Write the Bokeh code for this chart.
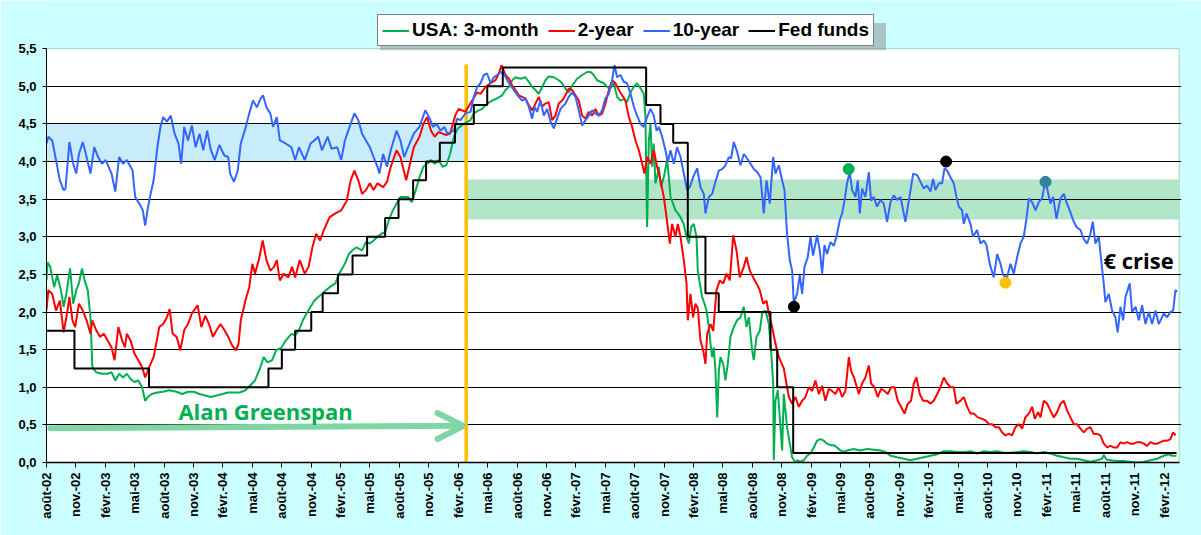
import math
from bokeh.plotting import figure
from bokeh.models import (Range1d, FixedTicker, Legend, LegendItem, Label, Arrow,
                          OpenHead, BoxAnnotation)
from bokeh.embed import file_html
from bokeh.resources import INLINE

# ---------------- data (x = decimal year, y = yield in %) ----------------
x_tick_labels = ["août-02", "nov.-02", "févr.-03", "mai-03", "août-03", "nov.-03",
                 "févr.-04", "mai-04", "août-04", "nov.-04", "févr.-05", "mai-05",
                 "août-05", "nov.-05", "févr.-06", "mai-06", "août-06", "nov.-06",
                 "févr.-07", "mai-07", "août-07", "nov.-07", "févr.-08", "mai-08",
                 "août-08", "nov.-08", "févr.-09", "mai-09", "août-09", "nov.-09",
                 "févr.-10", "mai-10", "août-10", "nov.-10", "févr.-11", "mai-11",
                 "août-11", "nov.-11", "févr.-12"]
y_tick_values = [0.0, 0.5, 1.0, 1.5, 2.0, 2.5, 3.0, 3.5, 4.0, 4.5, 5.0, 5.5]
y_tick_labels = ["0,0", "0,5", "1,0", "1,5", "2,0", "2,5", "3,0", "3,5", "4,0", "4,5", "5,0", "5,5"]

series_names = ["USA: 3-month", "2-year", "10-year", "Fed funds"]

usa_3m = [
    (2002.583, 2.42), (2002.592, 2.66), (2002.615, 2.60), (2002.648, 2.33), (2002.674, 2.49),
    (2002.706, 2.29), (2002.729, 2.07), (2002.752, 2.24), (2002.784, 2.58), (2002.810, 2.11),
    (2002.836, 2.29), (2002.859, 2.38), (2002.885, 2.58), (2002.908, 2.42), (2002.934, 2.29),
    (2002.957, 1.93), (2002.973, 1.27), (2003.005, 1.20), (2003.054, 1.18), (2003.103, 1.18),
    (2003.136, 1.20), (2003.168, 1.09), (2003.201, 1.18), (2003.233, 1.13), (2003.266, 1.18),
    (2003.298, 1.11), (2003.331, 1.07), (2003.364, 1.09), (2003.396, 1.00), (2003.422, 0.82),
    (2003.445, 0.87), (2003.477, 0.91), (2003.526, 0.93), (2003.575, 0.94), (2003.624, 0.96),
    (2003.689, 0.94), (2003.737, 0.91), (2003.786, 0.94), (2003.835, 0.94), (2003.884, 0.91),
    (2003.933, 0.89), (2003.981, 0.87), (2004.030, 0.89), (2004.079, 0.91), (2004.128, 0.93),
    (2004.177, 0.93), (2004.225, 0.93), (2004.274, 0.96), (2004.313, 1.02), (2004.356, 1.09),
    (2004.398, 1.25), (2004.430, 1.40), (2004.463, 1.33), (2004.502, 1.36), (2004.535, 1.49),
    (2004.583, 1.53), (2004.616, 1.62), (2004.665, 1.71), (2004.697, 1.69), (2004.730, 1.76),
    (2004.762, 1.89), (2004.795, 1.98), (2004.828, 2.07), (2004.860, 2.15), (2004.893, 2.20),
    (2004.925, 2.24), (2004.958, 2.29), (2004.990, 2.33), (2005.039, 2.38), (2005.071, 2.51),
    (2005.120, 2.64), (2005.153, 2.77), (2005.185, 2.82), (2005.218, 2.86), (2005.266, 2.82),
    (2005.299, 2.93), (2005.332, 2.91), (2005.364, 2.95), (2005.397, 3.00), (2005.429, 3.04),
    (2005.462, 3.06), (2005.494, 3.22), (2005.527, 3.35), (2005.559, 3.44), (2005.592, 3.53),
    (2005.624, 3.53), (2005.657, 3.53), (2005.689, 3.46), (2005.722, 3.62), (2005.754, 3.79),
    (2005.787, 3.93), (2005.819, 3.97), (2005.852, 4.02), (2005.884, 3.97), (2005.917, 4.02),
    (2005.950, 3.93), (2005.982, 3.95), (2006.014, 4.10), (2006.047, 4.33), (2006.080, 4.44),
    (2006.129, 4.50), (2006.188, 4.55), (2006.216, 4.64), (2006.258, 4.68), (2006.287, 4.70),
    (2006.329, 4.77), (2006.372, 4.81), (2006.414, 4.84), (2006.457, 4.88), (2006.485, 4.95),
    (2006.514, 4.99), (2006.542, 5.08), (2006.570, 5.12), (2006.613, 5.10), (2006.655, 5.12),
    (2006.683, 5.06), (2006.712, 4.99), (2006.740, 4.95), (2006.768, 4.90), (2006.797, 4.99),
    (2006.825, 5.08), (2006.853, 5.13), (2006.896, 5.12), (2006.938, 5.08), (2006.967, 5.04),
    (2006.995, 4.97), (2007.023, 4.92), (2007.052, 5.01), (2007.094, 5.10), (2007.137, 5.15),
    (2007.179, 5.19), (2007.208, 5.19), (2007.236, 5.15), (2007.264, 5.08), (2007.293, 5.06),
    (2007.321, 5.04), (2007.350, 4.99), (2007.378, 4.97), (2007.406, 5.04), (2007.434, 4.86),
    (2007.463, 4.81), (2007.491, 4.83), (2007.519, 4.79), (2007.548, 4.92), (2007.576, 4.99),
    (2007.604, 5.04), (2007.633, 4.97), (2007.661, 4.90), (2007.675, 4.59), (2007.689, 3.13),
    (2007.704, 4.28), (2007.718, 4.50), (2007.732, 3.93), (2007.746, 4.24), (2007.760, 3.71),
    (2007.774, 3.79), (2007.789, 3.93), (2007.808, 3.66), (2007.831, 3.79), (2007.859, 4.02),
    (2007.874, 3.79), (2007.888, 3.53), (2007.910, 3.44), (2007.930, 3.35), (2007.950, 3.31),
    (2007.973, 3.26), (2008.001, 3.17), (2008.024, 3.00), (2008.044, 2.91), (2008.064, 3.13),
    (2008.086, 3.17), (2008.109, 3.00), (2008.120, 2.55), (2008.137, 2.38), (2008.157, 2.20),
    (2008.177, 2.11), (2008.194, 2.02), (2008.214, 1.80), (2008.228, 1.58), (2008.242, 1.40),
    (2008.256, 1.53), (2008.270, 1.22), (2008.285, 0.60), (2008.299, 1.22), (2008.313, 1.40),
    (2008.336, 1.31), (2008.355, 1.09), (2008.375, 1.31), (2008.398, 1.67), (2008.426, 1.80),
    (2008.454, 1.89), (2008.483, 1.93), (2008.511, 2.07), (2008.534, 1.80), (2008.554, 1.93),
    (2008.582, 1.49), (2008.596, 1.36), (2008.619, 1.67), (2008.647, 1.75), (2008.667, 1.98),
    (2008.695, 2.02), (2008.724, 1.84), (2008.743, 1.49), (2008.761, 1.05), (2008.766, 0.03),
    (2008.780, 0.82), (2008.800, 0.96), (2008.817, 0.60), (2008.837, 0.16), (2008.851, 0.91),
    (2008.879, 0.47), (2008.902, 0.25), (2008.922, 0.07), (2008.950, 0.00), (2008.964, 0.03),
    (2008.993, 0.01), (2009.021, 0.03), (2009.049, 0.09), (2009.078, 0.12), (2009.106, 0.20),
    (2009.134, 0.29), (2009.163, 0.31), (2009.191, 0.29), (2009.219, 0.25), (2009.248, 0.23),
    (2009.276, 0.23), (2009.304, 0.20), (2009.333, 0.16), (2009.361, 0.14), (2009.389, 0.16),
    (2009.446, 0.18), (2009.503, 0.16), (2009.559, 0.18), (2009.616, 0.17), (2009.673, 0.16),
    (2009.715, 0.14), (2009.758, 0.09), (2009.814, 0.07), (2009.871, 0.05), (2009.928, 0.03),
    (2009.984, 0.05), (2010.041, 0.07), (2010.098, 0.09), (2010.155, 0.11), (2010.211, 0.15),
    (2010.268, 0.15), (2010.325, 0.14), (2010.381, 0.14), (2010.438, 0.15), (2010.494, 0.12),
    (2010.551, 0.15), (2010.608, 0.14), (2010.665, 0.15), (2010.721, 0.13), (2010.778, 0.13),
    (2010.835, 0.14), (2010.891, 0.15), (2010.948, 0.14), (2011.004, 0.12), (2011.061, 0.14),
    (2011.118, 0.12), (2011.175, 0.09), (2011.231, 0.07), (2011.288, 0.05), (2011.345, 0.05),
    (2011.401, 0.03), (2011.458, 0.01), (2011.515, 0.03), (2011.557, 0.05), (2011.571, 0.10),
    (2011.594, 0.04), (2011.628, 0.03), (2011.685, 0.02), (2011.741, 0.02), (2011.798, 0.01),
    (2011.855, 0.00), (2011.911, 0.01), (2011.968, 0.03), (2012.025, 0.05), (2012.081, 0.09),
    (2012.124, 0.11), (2012.152, 0.09), (2012.189, 0.09),
]

usa_2y = [
    (2002.583, 2.02), (2002.599, 2.29), (2002.632, 2.24), (2002.664, 2.02), (2002.697, 2.15),
    (2002.729, 1.73), (2002.762, 2.02), (2002.778, 2.20), (2002.804, 1.89), (2002.827, 1.80),
    (2002.859, 2.11), (2002.892, 2.02), (2002.924, 1.89), (2002.957, 1.71), (2002.973, 1.89),
    (2003.005, 1.76), (2003.038, 1.67), (2003.071, 1.71), (2003.103, 1.62), (2003.136, 1.53),
    (2003.162, 1.36), (2003.194, 1.80), (2003.227, 1.62), (2003.250, 1.53), (2003.266, 1.71),
    (2003.298, 1.62), (2003.331, 1.45), (2003.364, 1.36), (2003.396, 1.27), (2003.422, 1.13),
    (2003.445, 1.22), (2003.468, 1.31), (2003.494, 1.40), (2003.510, 1.53), (2003.542, 1.80),
    (2003.575, 1.84), (2003.607, 1.93), (2003.630, 2.04), (2003.656, 1.71), (2003.689, 1.67),
    (2003.721, 1.49), (2003.754, 1.76), (2003.786, 1.84), (2003.819, 1.98), (2003.868, 2.09),
    (2003.900, 1.80), (2003.933, 1.95), (2003.965, 1.84), (2003.998, 1.67), (2004.030, 1.76),
    (2004.063, 1.84), (2004.095, 1.76), (2004.128, 1.67), (2004.160, 1.56), (2004.193, 1.49),
    (2004.216, 1.58), (2004.235, 1.89), (2004.274, 2.15), (2004.307, 2.33), (2004.333, 2.64),
    (2004.356, 2.51), (2004.388, 2.69), (2004.421, 2.95), (2004.453, 2.69), (2004.486, 2.55),
    (2004.518, 2.60), (2004.541, 2.69), (2004.567, 2.42), (2004.600, 2.51), (2004.639, 2.46),
    (2004.671, 2.60), (2004.697, 2.46), (2004.736, 2.69), (2004.779, 2.51), (2004.811, 2.60),
    (2004.844, 2.86), (2004.876, 3.04), (2004.909, 2.95), (2004.941, 3.09), (2004.990, 3.26),
    (2005.039, 3.31), (2005.088, 3.35), (2005.136, 3.48), (2005.169, 3.75), (2005.201, 3.88),
    (2005.234, 3.75), (2005.266, 3.57), (2005.299, 3.62), (2005.332, 3.71), (2005.364, 3.62),
    (2005.397, 3.71), (2005.445, 3.66), (2005.478, 3.73), (2005.510, 3.93), (2005.559, 4.15),
    (2005.592, 4.06), (2005.641, 3.75), (2005.673, 3.97), (2005.706, 4.19), (2005.754, 4.33),
    (2005.787, 4.50), (2005.819, 4.59), (2005.852, 4.41), (2005.884, 4.33), (2005.917, 4.39),
    (2005.950, 4.37), (2005.982, 4.35), (2006.014, 4.37), (2006.060, 4.62), (2006.088, 4.70),
    (2006.145, 4.66), (2006.202, 4.81), (2006.244, 4.92), (2006.273, 4.90), (2006.315, 4.99),
    (2006.358, 5.04), (2006.400, 5.08), (2006.428, 5.17), (2006.451, 5.28), (2006.485, 5.15),
    (2006.514, 5.10), (2006.542, 5.01), (2006.570, 4.95), (2006.598, 4.88), (2006.627, 4.86),
    (2006.655, 4.84), (2006.683, 4.75), (2006.712, 4.68), (2006.740, 4.77), (2006.768, 4.86),
    (2006.797, 4.73), (2006.825, 4.77), (2006.853, 4.79), (2006.882, 4.55), (2006.910, 4.61),
    (2006.938, 4.77), (2006.967, 4.81), (2006.995, 4.88), (2007.023, 4.97), (2007.052, 4.95),
    (2007.080, 4.88), (2007.108, 4.81), (2007.137, 4.61), (2007.165, 4.57), (2007.193, 4.66),
    (2007.222, 4.61), (2007.250, 4.70), (2007.279, 4.61), (2007.307, 4.64), (2007.335, 4.77),
    (2007.364, 4.95), (2007.392, 5.08), (2007.420, 5.04), (2007.449, 4.95), (2007.477, 4.88),
    (2007.505, 4.81), (2007.534, 4.59), (2007.562, 4.46), (2007.590, 4.28), (2007.619, 4.15),
    (2007.647, 3.97), (2007.667, 3.84), (2007.689, 4.06), (2007.718, 3.97), (2007.746, 4.15),
    (2007.774, 3.93), (2007.803, 3.75), (2007.831, 3.53), (2007.854, 3.26), (2007.882, 2.91),
    (2007.902, 3.17), (2007.930, 3.00), (2007.950, 3.17), (2007.973, 3.00), (2008.001, 2.69),
    (2008.024, 2.38), (2008.035, 1.89), (2008.058, 2.24), (2008.080, 1.93), (2008.100, 2.11),
    (2008.120, 2.05), (2008.143, 1.62), (2008.166, 1.49), (2008.185, 1.31), (2008.200, 1.71),
    (2008.228, 1.84), (2008.251, 1.75), (2008.279, 2.29), (2008.307, 2.42), (2008.336, 2.38),
    (2008.364, 2.51), (2008.392, 2.42), (2008.421, 3.02), (2008.449, 2.82), (2008.477, 2.46),
    (2008.511, 2.60), (2008.534, 2.73), (2008.562, 2.55), (2008.591, 2.46), (2008.619, 2.38),
    (2008.647, 2.29), (2008.676, 2.11), (2008.704, 2.15), (2008.724, 1.98), (2008.752, 1.80),
    (2008.780, 1.58), (2008.809, 1.40), (2008.851, 1.25), (2008.894, 0.87), (2008.922, 0.78),
    (2008.950, 0.87), (2008.979, 0.74), (2009.007, 0.82), (2009.035, 0.87), (2009.064, 1.00),
    (2009.092, 0.95), (2009.120, 1.09), (2009.149, 0.91), (2009.177, 1.02), (2009.205, 0.82),
    (2009.234, 0.98), (2009.262, 0.95), (2009.290, 0.91), (2009.319, 1.00), (2009.347, 0.87),
    (2009.375, 0.95), (2009.404, 1.40), (2009.423, 1.22), (2009.452, 1.11), (2009.489, 0.91),
    (2009.517, 1.05), (2009.545, 1.13), (2009.574, 1.29), (2009.593, 1.05), (2009.622, 1.00),
    (2009.650, 0.87), (2009.678, 0.98), (2009.707, 0.95), (2009.735, 0.91), (2009.763, 1.00),
    (2009.792, 1.00), (2009.820, 0.82), (2009.848, 0.74), (2009.877, 0.65), (2009.905, 0.78),
    (2009.933, 0.82), (2009.956, 1.05), (2009.979, 1.13), (2010.007, 0.91), (2010.035, 0.82),
    (2010.069, 0.82), (2010.098, 0.78), (2010.126, 0.82), (2010.155, 0.91), (2010.183, 1.00),
    (2010.211, 1.13), (2010.240, 1.05), (2010.268, 1.00), (2010.296, 1.00), (2010.319, 0.78),
    (2010.353, 0.82), (2010.381, 0.87), (2010.410, 0.74), (2010.438, 0.65), (2010.466, 0.65),
    (2010.500, 0.60), (2010.537, 0.58), (2010.566, 0.56), (2010.594, 0.51), (2010.622, 0.51),
    (2010.651, 0.47), (2010.679, 0.47), (2010.707, 0.40), (2010.736, 0.36), (2010.764, 0.38),
    (2010.792, 0.36), (2010.820, 0.47), (2010.849, 0.51), (2010.877, 0.45), (2010.905, 0.60),
    (2010.934, 0.65), (2010.962, 0.74), (2010.985, 0.58), (2011.013, 0.67), (2011.033, 0.60),
    (2011.061, 0.82), (2011.090, 0.78), (2011.118, 0.69), (2011.146, 0.60), (2011.175, 0.67),
    (2011.203, 0.78), (2011.231, 0.82), (2011.260, 0.69), (2011.288, 0.60), (2011.316, 0.51),
    (2011.345, 0.51), (2011.373, 0.45), (2011.401, 0.40), (2011.430, 0.45), (2011.458, 0.47),
    (2011.486, 0.38), (2011.515, 0.38), (2011.543, 0.36), (2011.571, 0.25), (2011.600, 0.20),
    (2011.628, 0.22), (2011.656, 0.20), (2011.685, 0.20), (2011.713, 0.27), (2011.741, 0.25),
    (2011.770, 0.27), (2011.798, 0.25), (2011.826, 0.25), (2011.855, 0.27), (2011.883, 0.27),
    (2011.911, 0.25), (2011.940, 0.22), (2011.968, 0.27), (2011.996, 0.25), (2012.025, 0.25),
    (2012.053, 0.27), (2012.081, 0.29), (2012.110, 0.29), (2012.138, 0.31), (2012.161, 0.40),
    (2012.181, 0.36),
]

usa_10y = [
    (2002.583, 4.24), (2002.599, 4.33), (2002.632, 4.28), (2002.664, 4.02), (2002.697, 3.75),
    (2002.729, 3.62), (2002.745, 3.64), (2002.778, 4.26), (2002.810, 3.97), (2002.836, 3.84),
    (2002.859, 4.10), (2002.892, 4.26), (2002.924, 4.06), (2002.957, 3.84), (2002.989, 4.19),
    (2003.022, 4.06), (2003.054, 3.97), (2003.087, 4.02), (2003.136, 3.84), (2003.168, 3.60),
    (2003.201, 4.06), (2003.233, 3.97), (2003.266, 4.02), (2003.315, 3.88), (2003.337, 3.53),
    (2003.380, 3.42), (2003.402, 3.35), (2003.422, 3.15), (2003.445, 3.38), (2003.468, 3.57),
    (2003.494, 3.75), (2003.526, 4.19), (2003.552, 4.46), (2003.575, 4.59), (2003.607, 4.53),
    (2003.640, 4.61), (2003.672, 4.37), (2003.705, 4.24), (2003.728, 3.97), (2003.754, 4.46),
    (2003.786, 4.28), (2003.819, 4.48), (2003.851, 4.19), (2003.884, 4.37), (2003.916, 4.15),
    (2003.949, 4.41), (2003.981, 4.15), (2004.014, 4.02), (2004.053, 4.22), (2004.095, 4.08),
    (2004.128, 4.06), (2004.144, 3.84), (2004.177, 3.73), (2004.209, 3.88), (2004.235, 4.24),
    (2004.274, 4.44), (2004.307, 4.64), (2004.339, 4.81), (2004.372, 4.72), (2004.404, 4.84),
    (2004.424, 4.88), (2004.453, 4.72), (2004.486, 4.64), (2004.509, 4.46), (2004.541, 4.59),
    (2004.567, 4.28), (2004.616, 4.24), (2004.665, 4.19), (2004.697, 4.02), (2004.730, 4.19),
    (2004.779, 4.02), (2004.828, 4.24), (2004.860, 4.28), (2004.893, 4.33), (2004.925, 4.15),
    (2004.974, 4.33), (2005.006, 4.17), (2005.055, 4.19), (2005.088, 4.02), (2005.120, 4.28),
    (2005.169, 4.50), (2005.201, 4.64), (2005.234, 4.55), (2005.266, 4.37), (2005.299, 4.28),
    (2005.332, 4.19), (2005.364, 4.06), (2005.397, 3.93), (2005.413, 3.84), (2005.445, 4.10),
    (2005.478, 3.93), (2005.510, 4.15), (2005.559, 4.41), (2005.592, 4.28), (2005.624, 4.06),
    (2005.657, 4.19), (2005.706, 4.37), (2005.754, 4.46), (2005.803, 4.68), (2005.836, 4.59),
    (2005.868, 4.46), (2005.901, 4.50), (2005.933, 4.41), (2005.966, 4.46), (2005.990, 4.37),
    (2006.046, 4.41), (2006.075, 4.57), (2006.103, 4.55), (2006.145, 4.64), (2006.188, 4.66),
    (2006.216, 4.86), (2006.244, 4.99), (2006.273, 5.04), (2006.301, 5.15), (2006.329, 5.17),
    (2006.358, 5.04), (2006.386, 5.12), (2006.414, 5.15), (2006.443, 5.19), (2006.471, 5.17),
    (2006.500, 5.08), (2006.528, 5.01), (2006.570, 4.92), (2006.598, 4.86), (2006.627, 4.81),
    (2006.655, 4.84), (2006.683, 4.73), (2006.712, 4.57), (2006.732, 4.73), (2006.754, 4.66),
    (2006.783, 4.81), (2006.811, 4.61), (2006.839, 4.70), (2006.868, 4.53), (2006.896, 4.44),
    (2006.924, 4.57), (2006.953, 4.70), (2006.995, 4.77), (2007.023, 4.86), (2007.052, 4.92),
    (2007.080, 4.86), (2007.108, 4.68), (2007.137, 4.48), (2007.165, 4.55), (2007.193, 4.61),
    (2007.222, 4.68), (2007.250, 4.64), (2007.279, 4.61), (2007.307, 4.68), (2007.335, 4.84),
    (2007.364, 4.90), (2007.392, 5.08), (2007.412, 5.28), (2007.434, 5.12), (2007.463, 5.15),
    (2007.491, 5.06), (2007.519, 5.04), (2007.548, 4.90), (2007.576, 4.73), (2007.604, 4.61),
    (2007.633, 4.50), (2007.661, 4.46), (2007.689, 4.59), (2007.718, 4.70), (2007.746, 4.61),
    (2007.769, 4.41), (2007.789, 4.46), (2007.817, 4.33), (2007.845, 4.15), (2007.865, 3.99),
    (2007.888, 4.15), (2007.916, 3.97), (2007.944, 4.19), (2007.973, 4.06), (2008.001, 3.84),
    (2008.029, 3.62), (2008.052, 3.66), (2008.080, 3.79), (2008.114, 3.91), (2008.143, 3.66),
    (2008.171, 3.57), (2008.185, 3.31), (2008.214, 3.53), (2008.242, 3.57), (2008.270, 3.73),
    (2008.299, 3.88), (2008.327, 3.90), (2008.355, 3.95), (2008.384, 4.06), (2008.403, 4.04),
    (2008.426, 4.26), (2008.454, 4.13), (2008.483, 3.95), (2008.511, 4.10), (2008.540, 4.04),
    (2008.568, 3.97), (2008.596, 3.90), (2008.625, 3.86), (2008.653, 3.79), (2008.681, 3.31),
    (2008.704, 3.75), (2008.732, 3.44), (2008.761, 4.06), (2008.780, 3.84), (2008.809, 3.95),
    (2008.837, 3.75), (2008.857, 3.62), (2008.879, 3.04), (2008.902, 2.69), (2008.922, 2.55),
    (2008.936, 2.12), (2008.964, 2.24), (2008.987, 2.49), (2009.007, 2.24), (2009.027, 2.60),
    (2009.055, 2.73), (2009.078, 3.00), (2009.100, 2.75), (2009.134, 3.02), (2009.157, 2.82),
    (2009.177, 2.51), (2009.197, 2.89), (2009.219, 2.77), (2009.248, 2.93), (2009.276, 2.88),
    (2009.299, 3.00), (2009.327, 3.22), (2009.347, 3.31), (2009.367, 3.48), (2009.389, 3.71),
    (2009.412, 3.86), (2009.432, 3.62), (2009.460, 3.53), (2009.480, 3.75), (2009.497, 3.31),
    (2009.517, 3.64), (2009.545, 3.53), (2009.574, 3.86), (2009.593, 3.48), (2009.616, 3.53),
    (2009.644, 3.40), (2009.673, 3.49), (2009.701, 3.44), (2009.729, 3.20), (2009.758, 3.46),
    (2009.786, 3.55), (2009.814, 3.49), (2009.843, 3.53), (2009.885, 3.20), (2009.914, 3.48),
    (2009.951, 3.84), (2009.984, 3.82), (2010.013, 3.73), (2010.041, 3.64), (2010.069, 3.68),
    (2010.098, 3.60), (2010.120, 3.77), (2010.140, 3.62), (2010.169, 3.71), (2010.197, 3.71),
    (2010.217, 3.91), (2010.240, 3.88), (2010.268, 3.79), (2010.296, 3.71), (2010.319, 3.53),
    (2010.339, 3.40), (2010.367, 3.35), (2010.381, 3.17), (2010.404, 3.31), (2010.438, 3.17),
    (2010.460, 3.00), (2010.494, 3.09), (2010.523, 2.91), (2010.551, 2.95), (2010.574, 2.89),
    (2010.602, 2.64), (2010.636, 2.46), (2010.665, 2.77), (2010.693, 2.64), (2010.716, 2.49),
    (2010.749, 2.46), (2010.778, 2.64), (2010.806, 2.51), (2010.835, 2.73), (2010.863, 2.91),
    (2010.891, 3.00), (2010.914, 3.24), (2010.934, 3.51), (2010.962, 3.46), (2010.991, 3.35),
    (2011.019, 3.46), (2011.047, 3.51), (2011.070, 3.71), (2011.090, 3.64), (2011.118, 3.44),
    (2011.141, 3.53), (2011.169, 3.24), (2011.203, 3.51), (2011.231, 3.57), (2011.254, 3.46),
    (2011.282, 3.35), (2011.311, 3.22), (2011.339, 3.13), (2011.373, 3.09), (2011.401, 2.97),
    (2011.430, 2.91), (2011.458, 3.04), (2011.478, 3.20), (2011.500, 2.91), (2011.529, 3.00),
    (2011.549, 2.69), (2011.571, 2.38), (2011.585, 2.13), (2011.614, 2.24), (2011.642, 2.02),
    (2011.670, 1.93), (2011.690, 1.73), (2011.713, 2.07), (2011.736, 1.89), (2011.756, 2.20),
    (2011.792, 2.38), (2011.812, 2.00), (2011.841, 2.07), (2011.869, 1.89), (2011.897, 2.09),
    (2011.926, 1.84), (2011.954, 2.00), (2011.982, 1.84), (2012.011, 2.02), (2012.039, 1.84),
    (2012.081, 1.98), (2012.110, 1.93), (2012.138, 2.00), (2012.161, 2.02), (2012.181, 2.29),
    (2012.195, 2.27),
]

fed_funds = [
    (2002.583, 1.75), (2002.821, 1.25), (2003.455, 1.00), (2004.470, 1.25), (2004.584, 1.50),
    (2004.697, 1.75), (2004.834, 2.00), (2004.931, 2.25), (2005.061, 2.50), (2005.185, 2.75),
    (2005.309, 3.00), (2005.462, 3.25), (2005.576, 3.50), (2005.700, 3.75), (2005.810, 4.00),
    (2005.927, 4.25), (2006.056, 4.50), (2006.216, 4.75), (2006.330, 5.00), (2006.462, 5.25),
    (2007.681, 4.75), (2007.803, 4.50), (2007.911, 4.25), (2008.035, 3.00), (2008.185, 2.25),
    (2008.298, 2.00), (2008.738, 1.50), (2008.795, 1.00), (2008.931, 0.125), (2012.190, 0.125),
]

# highlighted 10-year turning points
marker_dates = [2008.937, 2009.403, 2010.231, 2010.735, 2011.076]
marker_values = [2.07, 3.90, 4.00, 2.39, 3.73]
marker_colors = ["#000000", "#00B050", "#000000", "#FFC000", "#31849B"]

greenspan_end = 2006.151          # end of the Greenspan era (orange line)
band_greenspan = (4.0, 4.5)        # 10-year range under Greenspan
band_after = (3.23, 3.76)          # 10-year range after

# ---------------- figure ----------------
X0, X_END = 2002 + 7 / 12, 2012.212      # plotted period (plot-area edges)
Y_MAX = 5.5
# the frame reaches up to the page top so that the legend (above the plot area) is not clipped
p = figure(width=1201, height=535, output_backend="svg", toolbar_location=None,
           x_range=Range1d(X0, X_END + 0.02), y_range=Range1d(0, 6.14),
           min_border_left=46, min_border_right=20, min_border_top=0, min_border_bottom=73)
p.border_fill_color = "#CCFFFF"
p.background_fill_color = "#CCFFFF"
p.outline_line_color = None

# white plot area with the green Excel-style border (top / right)
p.add_layout(BoxAnnotation(left=X0, right=X_END, bottom=0, top=Y_MAX, fill_color="white",
                           fill_alpha=1, line_color="#008000", line_width=1, level="image"))

month_num = {"août": 8, "nov.": 11, "févr.": 2, "mai": 5}
x_tick_pos = []
for lab in x_tick_labels:
    mname, yy = lab.rsplit("-", 1)
    x_tick_pos.append(2000 + int(yy) + (month_num[mname] - 1) / 12)

xa = p.xaxis[0]
xa.bounds = (X0, X_END)
xa.ticker = FixedTicker(ticks=x_tick_pos)
xa.major_label_overrides = {t: lab for t, lab in zip(x_tick_pos, x_tick_labels)}
xa.major_label_orientation = math.pi / 2
xa.major_label_text_font = "Liberation Sans"
xa.major_label_text_font_style = "bold"
xa.major_label_text_font_size = "13px"
xa.major_label_text_color = "black"
xa.major_label_standoff = 5
xa.major_tick_in = 0
xa.major_tick_out = 5
xa.minor_tick_in = 0
xa.minor_tick_out = 0
xa.axis_line_color = "black"
xa.axis_line_width = 1.5
xa.major_tick_line_color = "black"

ya = p.yaxis[0]
ya.bounds = (0, Y_MAX)
ya.ticker = FixedTicker(ticks=y_tick_values)
ya.major_label_overrides = {v: lab for v, lab in zip(y_tick_values, y_tick_labels)}
ya.major_label_text_font = "Liberation Sans"
ya.major_label_text_font_style = "bold"
ya.major_label_text_font_size = "13px"
ya.major_label_text_color = "black"
ya.major_label_standoff = 6
ya.major_tick_in = 0
ya.major_tick_out = 4
ya.minor_tick_in = 0
ya.minor_tick_out = 0
ya.axis_line_color = "black"
ya.axis_line_width = 1

p.xgrid.visible = False
p.ygrid.ticker = FixedTicker(ticks=y_tick_values[:-1])
p.ygrid.bounds = (X0, X_END)
p.ygrid.grid_line_color = "black"
p.ygrid.grid_line_width = 1
p.ygrid.grid_line_alpha = 1

# bands (drawn below grid)
p.add_layout(BoxAnnotation(left=X0, right=greenspan_end, bottom=band_greenspan[0],
                           top=band_greenspan[1], fill_color="#C8ECFA", fill_alpha=1,
                           line_alpha=0, level="image"))
p.add_layout(BoxAnnotation(left=greenspan_end, right=X_END, bottom=band_after[0],
                           top=band_after[1], fill_color="#B3E5C8", fill_alpha=1,
                           line_alpha=0, level="image"))

# orange vertical line
p.segment(x0=[greenspan_end], y0=[0], x1=[greenspan_end], y1=[5.29],
          line_color="#FFC000", line_width=3.5)

def split(series):
    return [a for a, _ in series], [b for _, b in series]

g_x, g_y = split(usa_3m)
r_x, r_y = split(usa_2y)
b_x, b_y = split(usa_10y)
f_x, f_y = split(fed_funds)

r_g = p.line(g_x, g_y, line_color="#00B050", line_width=2)
r_r = p.line(r_x, r_y, line_color="#FF0000", line_width=2)
r_b = p.line(b_x, b_y, line_color="#3366FF", line_width=2)
r_f = p.step(f_x, f_y, mode="after", line_color="black", line_width=2)

p.scatter(marker_dates, marker_values, size=11, fill_color=marker_colors,
          line_color=marker_colors)

# Greenspan arrow + labels
arrow_col = "#80D5A5"
p.add_layout(Arrow(x_start=2002.617, y_start=0.455, x_end=2006.128, y_end=0.487,
                   line_color=arrow_col, line_width=6, line_cap="round",
                   end=OpenHead(size=26, line_color=arrow_col, line_width=6, line_cap="round")))
p.add_layout(Label(x=2003.705, y=0.69, text="Alan Greenspan", text_font="Open Sans",
                   text_font_style="bold", text_font_size="22px", text_color="#00B050",
                   text_align="left", text_baseline="middle"))
p.add_layout(Label(x=2011.568, y=2.686, text="€ crise", text_font="Open Sans",
                   text_font_style="bold", text_font_size="22px", text_color="black",
                   text_align="left", text_baseline="middle"))

# legend shadow (soft grey offset box behind the legend)
p.add_layout(BoxAnnotation(left=2005.42, right=2009.72, bottom=5.48, top=5.84,
                           fill_color="#808080", fill_alpha=0.45, line_alpha=0))

legend = Legend(items=[LegendItem(label=series_names[0], renderers=[r_g]),
                       LegendItem(label=series_names[1], renderers=[r_r]),
                       LegendItem(label=series_names[2], renderers=[r_b]),
                       LegendItem(label=series_names[3], renderers=[r_f])],
                orientation="horizontal", location=(331, 416),
                glyph_width=27, glyph_height=17, label_height=17, label_standoff=3,
                spacing=9, padding=4, margin=0,
                label_text_font="Liberation Sans", label_text_font_style="bold",
                label_text_font_size="19px", label_text_color="black",
                border_line_color="black", border_line_width=1.5,
                background_fill_color="white", background_fill_alpha=1)
p.add_layout(legend)

html = file_html(p, INLINE)
html = html.replace("<body>", '<body style="background-color:#CCFFFF;">', 1)
open("out.html", "w").write(html)
